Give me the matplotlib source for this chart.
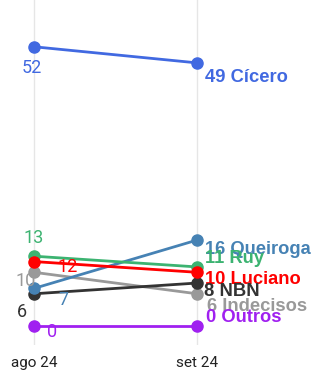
import matplotlib
matplotlib.use("Agg")
from matplotlib import pyplot as plt

# poll values, ago 24 -> set 24
periods = ["ago 24", "set 24"]
names = ["Cícero", "Queiroga", "Ruy", "Luciano", "NBN", "Indecisos", "Outros"]
ago = [52, 7, 13, 12, 6, 10, 0]
sep = [49, 16, 11, 10, 8, 6, 0]
colors = ["#4169e1", "#4682b4", "#3cb371", "#ff0000", "#333333", "#999999", "#a020f0"]

# label offsets in pixels (left value labels, right name labels)
left_off = [(-2, -21), (29, -12), (0, 18), (34, -5), (-8, -9), (-8, -9), (18, -6)]
left_off[4] = (-12, -18)
right_off = [(8, -15), (8, -9), (8, 8), (8, -7), (7, -8), (10, -13), (9, 8)]

fig = plt.figure(figsize=(3.17, 3.74), dpi=100)
ax = fig.add_axes([0, (374 - 345) / 374, 1, 345 / 374])

px_x = 163.0
ax.set_xlim(-34 / px_x, (317 - 34) / px_x)
py = 5.37
ax.set_ylim((326 - 345) / py, 326 / py)

for xv in [0, 1]:
    ax.axvline(xv, color="#e6e6e6", lw=1, zorder=0)

order = [5, 4, 1, 2, 3, 6, 0]
for i in order:
    ax.plot([0, 1], [ago[i], sep[i]], color=colors[i], lw=2, marker="o",
            markersize=8, zorder=3)

for i in range(len(names)):
    ax.annotate(str(ago[i]), (0, ago[i]), xytext=left_off[i], textcoords="offset pixels",
                ha="center", va="center", color=colors[i], fontsize=13,
                family="Roboto", zorder=5)
    ax.annotate(f"{sep[i]} {names[i]}", (1, sep[i]), xytext=right_off[i],
                textcoords="offset pixels", ha="left", va="center", color=colors[i],
                fontsize=13.2, fontweight="bold", family="Liberation Sans", zorder=5)

ax.set_xticks([0, 1])
ax.set_xticklabels(periods, family="Roboto", fontsize=11, color="#222222")
ax.tick_params(axis="x", length=0, pad=8)
ax.set_yticks([])
for s in ax.spines.values():
    s.set_visible(False)

fig.savefig("out.png", dpi=100)
